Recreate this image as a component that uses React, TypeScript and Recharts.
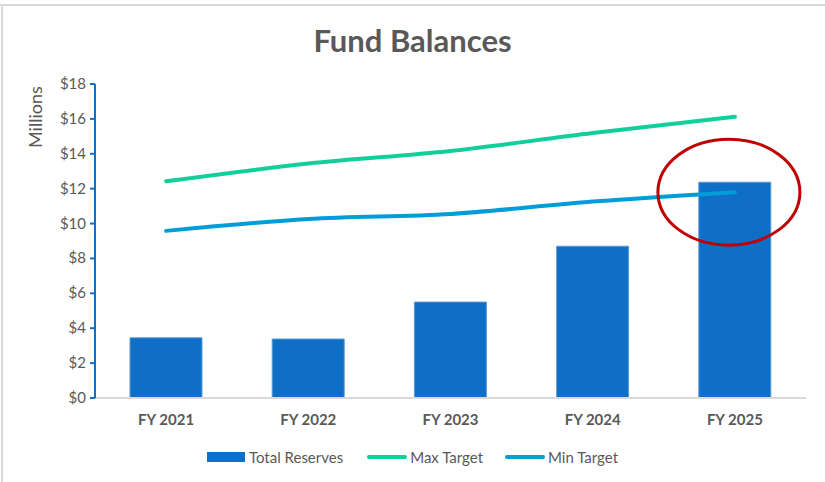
import React from "react";
import { ComposedChart, Bar, Line, XAxis, YAxis, Legend, ReferenceDot } from "recharts";

const categories = ["FY 2021", "FY 2022", "FY 2023", "FY 2024", "FY 2025"];
const totalReserves = [3.45, 3.38, 5.5, 8.7, 12.37];
const maxTarget = [12.42, 13.44, 14.16, 15.19, 16.12];
const minTarget = [9.58, 10.26, 10.55, 11.26, 11.8];
const yTicks = [0, 2, 4, 6, 8, 10, 12, 14, 16, 18];
const highlightCategory = "FY 2025";
const highlightValue = 11.8;

const data = categories.map((c, i) => ({
  name: c,
  reserves: totalReserves[i],
  max: maxTarget[i],
  min: minTarget[i],
}));

const FONT = "Lato, 'Open Sans', sans-serif";
const GRAY = "#595959";

const XTick = (props: any) => {
  const { x, y, payload } = props;
  return (
    <text x={x} y={y + 19} textAnchor="middle" fontFamily={FONT} fontSize={15} fontWeight={700} fill={GRAY}>
      {payload.value}
    </text>
  );
};

const YTick = (props: any) => {
  const { x, y, payload } = props;
  return (
    <text x={x - 2} y={y + 5} textAnchor="end" fontFamily={FONT} fontSize={15} fill={GRAY}>
      {"$" + payload.value}
    </text>
  );
};

const LegendContent = () => (
  <div style={{ display: "flex", justifyContent: "center", alignItems: "center", height: 22, fontFamily: FONT, fontSize: 15, color: GRAY }}>
    <div style={{ display: "flex", alignItems: "center", marginRight: 24 }}>
      <div style={{ width: 38, height: 10, background: "#0F6FC6", marginRight: 4 }} />
      <span>Total Reserves</span>
    </div>
    <div style={{ display: "flex", alignItems: "center", marginRight: 22 }}>
      <div style={{ width: 40, height: 4, borderRadius: 2, background: "#10CF9B", marginRight: 3 }} />
      <span>Max Target</span>
    </div>
    <div style={{ display: "flex", alignItems: "center" }}>
      <div style={{ width: 40, height: 4, borderRadius: 2, background: "#009DD9", marginRight: 3 }} />
      <span>Min Target</span>
    </div>
  </div>
);

const EllipseShape = (props: any) => {
  const { cx, cy } = props;
  return <ellipse cx={cx - 6} cy={cy} rx={71} ry={53} fill="none" stroke="#C00000" strokeWidth={3} />;
};

export default function App() {
  return (
    <div style={{ position: "absolute", left: 0, top: 0, width: 825, height: 482, background: "#fff" }}>
      <div style={{ position: "absolute", left: 0, top: 4, width: 825, height: 2, background: "#d9d9d9" }} />
      <div style={{ position: "absolute", left: 1, top: 4, width: 2, height: 478, background: "#d9d9d9" }} />
      <div style={{ position: "absolute", left: 0, top: 21, width: 825, textAlign: "center", fontFamily: FONT, fontWeight: 700, fontSize: 31, color: GRAY }}>
        Fund Balances
      </div>
      <ComposedChart
        width={825}
        height={482}
        data={data}
        margin={{ top: 84, right: 19, left: 0, bottom: 0 }}
        style={{ position: "absolute", left: 0, top: 0 }}
      >
        <XAxis
          dataKey="name"
          height={62}
          axisLine={{ stroke: "#d9d9d9", strokeWidth: 2 }}
          tickLine={false}
          tick={<XTick />}
          interval={0}
        />
        <YAxis
          width={95}
          domain={[0, 18]}
          ticks={yTicks}
          interval={0}
          axisLine={{ stroke: "#0F6FC6", strokeWidth: 2 }}
          tickLine={{ stroke: "#0F6FC6", strokeWidth: 2 }}
          tickSize={5}
          tick={<YTick />}
          label={{ value: "Millions", angle: -90, position: "insideTopLeft", offset: 0, dx: 29, dy: 64, fontFamily: FONT, fontSize: 18, fill: GRAY } as any}
        />
        <Legend verticalAlign="bottom" content={<LegendContent />} wrapperStyle={{ left: 0, width: 825, bottom: 14 }} />
        <Bar dataKey="reserves" name="Total Reserves" fill="#0F6FC6" stroke="#5b9bd5" strokeWidth={1} barSize={72} isAnimationActive={false} />
        <Line dataKey="max" name="Max Target" stroke="#10CF9B" strokeWidth={4} strokeLinecap="round" dot={false} type="monotone" isAnimationActive={false} />
        <Line dataKey="min" name="Min Target" stroke="#009DD9" strokeWidth={4} strokeLinecap="round" dot={false} type="monotone" isAnimationActive={false} />
        <ReferenceDot x={highlightCategory} y={highlightValue} shape={<EllipseShape />} ifOverflow="visible" />
      </ComposedChart>
    </div>
  );
}
